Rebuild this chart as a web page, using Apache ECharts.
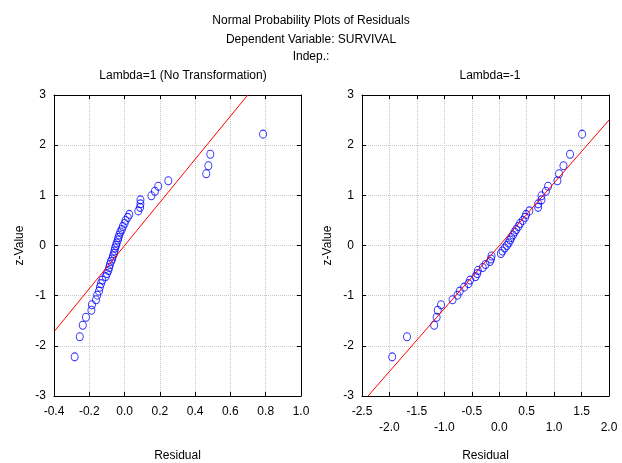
<!DOCTYPE html>
<html>
<head>
<meta charset="utf-8">
<script src="https://cdn.jsdelivr.net/npm/echarts@6/dist/echarts.min.js"></script>
<style>
  html, body { margin: 0; padding: 0; background: #fff; }
  #chart { width: 622px; height: 463px; }
</style>
</head>
<body>
<div id="chart"></div>
<script>
  // expected normal values (z) by rank
  var zValues = [-2.22, -1.82, -1.59, -1.43, -1.29, -1.18, -1.08, -0.99, -0.91, -0.83, -0.76, -0.69,
    -0.62, -0.56, -0.50, -0.44, -0.38, -0.32, -0.27, -0.21, -0.16, -0.11, -0.05, 0,
    0.05, 0.11, 0.16, 0.21, 0.27, 0.32, 0.38, 0.44, 0.50, 0.56, 0.62, 0.69,
    0.76, 0.83, 0.91, 0.99, 1.08, 1.18, 1.29, 1.43, 1.59, 1.82, 2.22];

  // residuals, Lambda=1 (no transformation)
  var residLeft = [-0.283, -0.254, -0.237, -0.219, -0.188, -0.185, -0.162, -0.155, -0.145, -0.140, -0.134, -0.126,
    -0.107, -0.100, -0.092, -0.087, -0.083, -0.077, -0.070, -0.066, -0.060, -0.057, -0.054, -0.048,
    -0.045, -0.038, -0.035, -0.030, -0.024, -0.016, -0.010, 0.000, 0.006, 0.018, 0.027, 0.078,
    0.088, 0.090, 0.090, 0.152, 0.172, 0.191, 0.248, 0.463, 0.475, 0.486, 0.785];

  // residuals, Lambda=-1
  var residRight = [-1.95, -1.68, -1.185, -1.14, -1.12, -1.06, -0.85, -0.76, -0.72, -0.64, -0.56, -0.53,
    -0.43, -0.40, -0.39, -0.30, -0.25, -0.17, -0.15, -0.14, 0.03, 0.06, 0.10, 0.14,
    0.17, 0.20, 0.22, 0.25, 0.28, 0.31, 0.35, 0.38, 0.43, 0.47, 0.49, 0.55,
    0.71, 0.71, 0.77, 0.77, 0.85, 0.89, 1.06, 1.09, 1.17, 1.29, 1.51];

  // reference lines (endpoints)
  var lineLeft = [[-0.4, -1.72], [0.698, 3]];
  var lineRight = [[-2.39, -3], [2.0, 2.5]];

  var font = 'Arial, "Liberation Sans", sans-serif';
  var myChart = echarts.init(document.getElementById('chart'));

  function pairs(xs, zs) {
    var out = [];
    for (var i = 0; i < xs.length; i++) {
      out.push([xs[i], zs[i]]);
    }
    return out;
  }

  function xAxisFor(idx, min, max, step, stagger) {
    return [{
      type: 'value', gridIndex: idx, min: min, max: max, interval: step,
      position: 'bottom',
      name: 'Residual', nameLocation: 'middle', nameGap: 54,
      nameTextStyle: { color: '#000', fontSize: 12, fontFamily: font },
      axisLine: { onZero: false, lineStyle: { color: '#000', width: 1 } },
      axisTick: { inside: true, length: 4, lineStyle: { color: '#000' } },
      axisLabel: {
        color: '#000', fontSize: 12, fontFamily: font, margin: 8, lineHeight: 16,
        showMinLabel: true, showMaxLabel: true,
        formatter: function (v) {
          var s = v.toFixed(1);
          if (stagger && Math.round(v * 2) % 2 === 0) return '\n' + s;
          return s;
        }
      },
      splitLine: { show: true, lineStyle: { color: '#c8c8c8', type: 'dotted', width: 1 } }
    }, {
      type: 'value', gridIndex: idx, min: min, max: max, interval: step,
      position: 'top',
      axisLine: { onZero: false, lineStyle: { color: '#000', width: 1 } },
      axisTick: { inside: true, length: 4, lineStyle: { color: '#000' } },
      axisLabel: { show: false },
      splitLine: { show: false }
    }];
  }

  function yAxisFor(idx) {
    return [{
      type: 'value', gridIndex: idx, min: -3, max: 3, interval: 1,
      position: 'left',
      name: 'z-Value', nameLocation: 'middle', nameGap: 28,
      nameTextStyle: { color: '#000', fontSize: 12, fontFamily: font },
      axisLine: { onZero: false, lineStyle: { color: '#000', width: 1 } },
      axisTick: { inside: true, length: 4, lineStyle: { color: '#000' } },
      axisLabel: { color: '#000', fontSize: 12, fontFamily: font, margin: 8 },
      splitLine: { show: true, lineStyle: { color: '#c8c8c8', type: 'dotted', width: 1 } }
    }, {
      type: 'value', gridIndex: idx, min: -3, max: 3, interval: 1,
      position: 'right',
      axisLine: { onZero: false, lineStyle: { color: '#000', width: 1 } },
      axisTick: { inside: true, length: 4, lineStyle: { color: '#000' } },
      axisLabel: { show: false },
      splitLine: { show: false }
    }];
  }

  var titleStyle = { color: '#000', fontSize: 12, fontWeight: 'normal', fontFamily: font };
  var dotStyle = { color: 'rgba(0,0,0,0)', borderColor: '#0000ff', borderWidth: 1 };

  myChart.setOption({
    animation: false,
    backgroundColor: '#fff',
    title: [
      { text: 'Normal Probability Plots of Residuals', left: 'center', top: 10, textStyle: titleStyle },
      { text: 'Dependent Variable: SURVIVAL', left: 'center', top: 29, textStyle: titleStyle },
      { text: 'Indep.:', left: 'center', top: 46, textStyle: titleStyle },
      { text: 'Lambda=1 (No Transformation)', left: 178, top: 65, textAlign: 'center', textStyle: titleStyle },
      { text: 'Lambda=-1', left: 485, top: 65, textAlign: 'center', textStyle: titleStyle }
    ],
    grid: [
      { left: 54, top: 95, width: 247, height: 301, outerBoundsMode: 'none', containLabel: false },
      { left: 362, top: 95, width: 247, height: 301, outerBoundsMode: 'none', containLabel: false }
    ],
    xAxis: xAxisFor(0, -0.4, 1.0, 0.2, false).concat(xAxisFor(1, -2.5, 2.0, 0.5, true)),
    yAxis: yAxisFor(0).concat(yAxisFor(1)),
    series: [
      {
        type: 'line', xAxisIndex: 0, yAxisIndex: 0, data: lineLeft,
        symbol: 'none', clip: true, silent: true,
        lineStyle: { color: '#ff0000', width: 1 }
      },
      {
        type: 'scatter', xAxisIndex: 0, yAxisIndex: 0, data: pairs(residLeft, zValues),
        symbol: 'circle', symbolSize: [7, 8], itemStyle: dotStyle
      },
      {
        type: 'line', xAxisIndex: 2, yAxisIndex: 2, data: lineRight,
        symbol: 'none', clip: true, silent: true,
        lineStyle: { color: '#ff0000', width: 1 }
      },
      {
        type: 'scatter', xAxisIndex: 2, yAxisIndex: 2, data: pairs(residRight, zValues),
        symbol: 'circle', symbolSize: [7, 8], itemStyle: dotStyle
      }
    ]
  });
</script>
</body>
</html>
